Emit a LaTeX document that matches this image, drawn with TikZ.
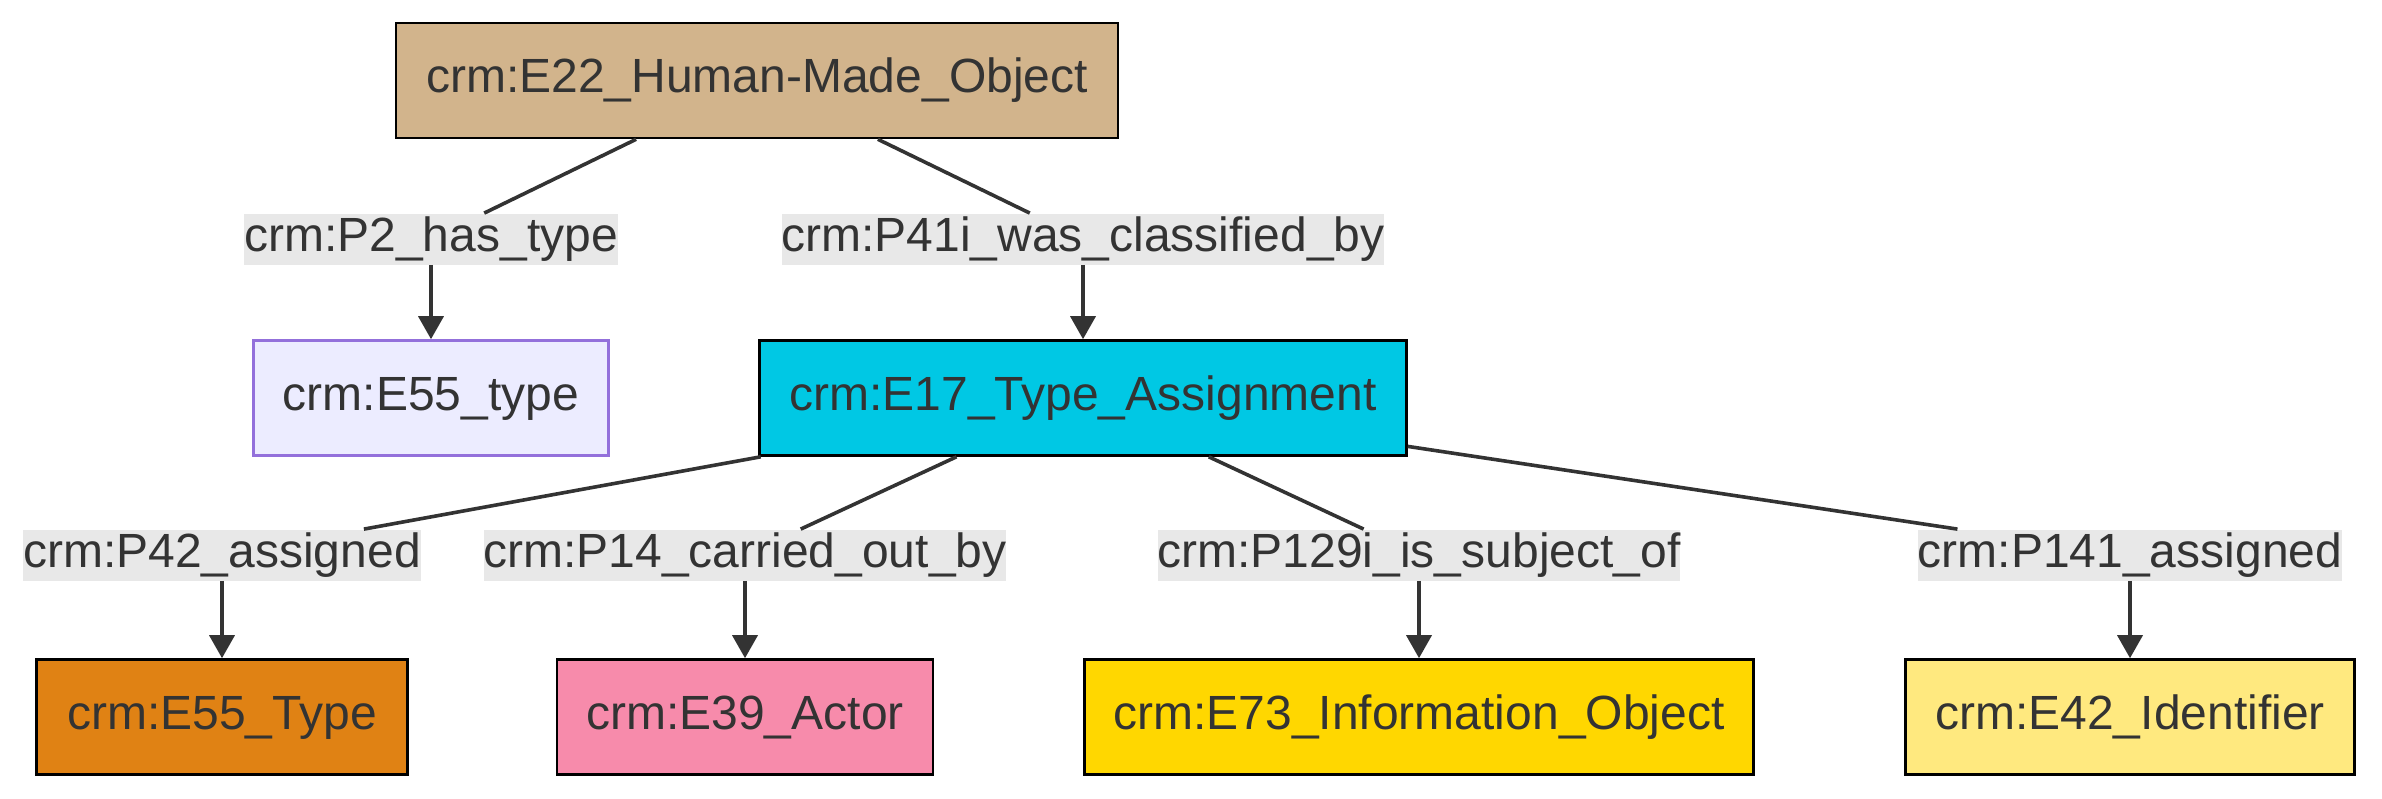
\documentclass[tikz,border=0pt]{standalone}
\usepackage{fontspec}
\setmainfont{Liberation Sans}
\usetikzlibrary{arrows.meta}
\definecolor{txt}{HTML}{333333}
\definecolor{lblbg}{HTML}{E8E8E8}
\definecolor{cTan}{HTML}{D2B48C}
\definecolor{cCyan}{HTML}{00C8E4}
\definecolor{cLav}{HTML}{ECECFF}
\definecolor{cLavS}{HTML}{9370DB}
\definecolor{cOrange}{HTML}{E08214}
\definecolor{cPink}{HTML}{F78BAB}
\definecolor{cGold}{HTML}{FFD700}
\definecolor{cYel}{HTML}{FFE97F}
\begin{document}
\begin{tikzpicture}[x=0.5pt,y=-0.5pt,
  font=\fontsize{24pt}{28pt}\selectfont, text=txt,
  ent/.style={draw=black, line width=1.3pt, minimum height=57.5pt, inner sep=0pt, text height=17pt, text depth=5pt},
  lbl/.style={fill=lblbg, inner sep=0pt, minimum height=25.5pt, text height=17.5pt, text depth=5pt},
  conn/.style={draw=txt, line width=1.8pt},
  arr/.style={conn, -{Triangle[length=11.5pt,width=12.5pt]}}]
\useasboundingbox[fill=white] (0,0) rectangle (2382,798);
% entity nodes
\node[ent, fill=cTan, minimum width=361pt] (e22) at (757,80.5) {crm:E22\_Human-Made\_Object};
\node[ent, fill=cLav, draw=cLavS, minimum width=177.5pt] (e55a) at (431,398) {crm:E55\_type};
\node[ent, fill=cCyan, minimum width=323.5pt] (e17) at (1083,398) {crm:E17\_Type\_Assignment};
\node[ent, fill=cOrange, minimum width=185.5pt] (e55b) at (222,717) {crm:E55\_Type};
\node[ent, fill=cPink, minimum width=188pt] (e39) at (745,717) {crm:E39\_Actor};
\node[ent, fill=cGold, minimum width=334.5pt] (e73) at (1419,717) {crm:E73\_Information\_Object};
\node[ent, fill=cYel, minimum width=224.5pt] (e42) at (2130,717) {crm:E42\_Identifier};
% edge labels
\node[lbl] (p2) at (431,239) {crm:P2\_has\_type};
\node[lbl] (p41) at (1083,239) {crm:P41i\_was\_classified\_by};
\node[lbl] (p42) at (222,555) {crm:P42\_assigned};
\node[lbl] (p14) at (745,555) {crm:P14\_carried\_out\_by};
\node[lbl] (p129) at (1419,555) {crm:P129i\_is\_subject\_of};
\node[lbl] (p141) at (2130,555) {crm:P141\_assigned};
% connectors
\draw[conn] (e22) -- (p2);
\draw[arr] (p2) -- (e55a);
\draw[conn] (e22) -- (p41);
\draw[arr] (p41) -- (e17);
\draw[conn] (e17) -- (p42);
\draw[arr] (p42) -- (e55b);
\draw[conn] (e17) -- (p14);
\draw[arr] (p14) -- (e39);
\draw[conn] (e17) -- (p129);
\draw[arr] (p129) -- (e73);
\draw[conn] (e17) -- (p141);
\draw[arr] (p141) -- (e42);
\end{tikzpicture}
\end{document}
